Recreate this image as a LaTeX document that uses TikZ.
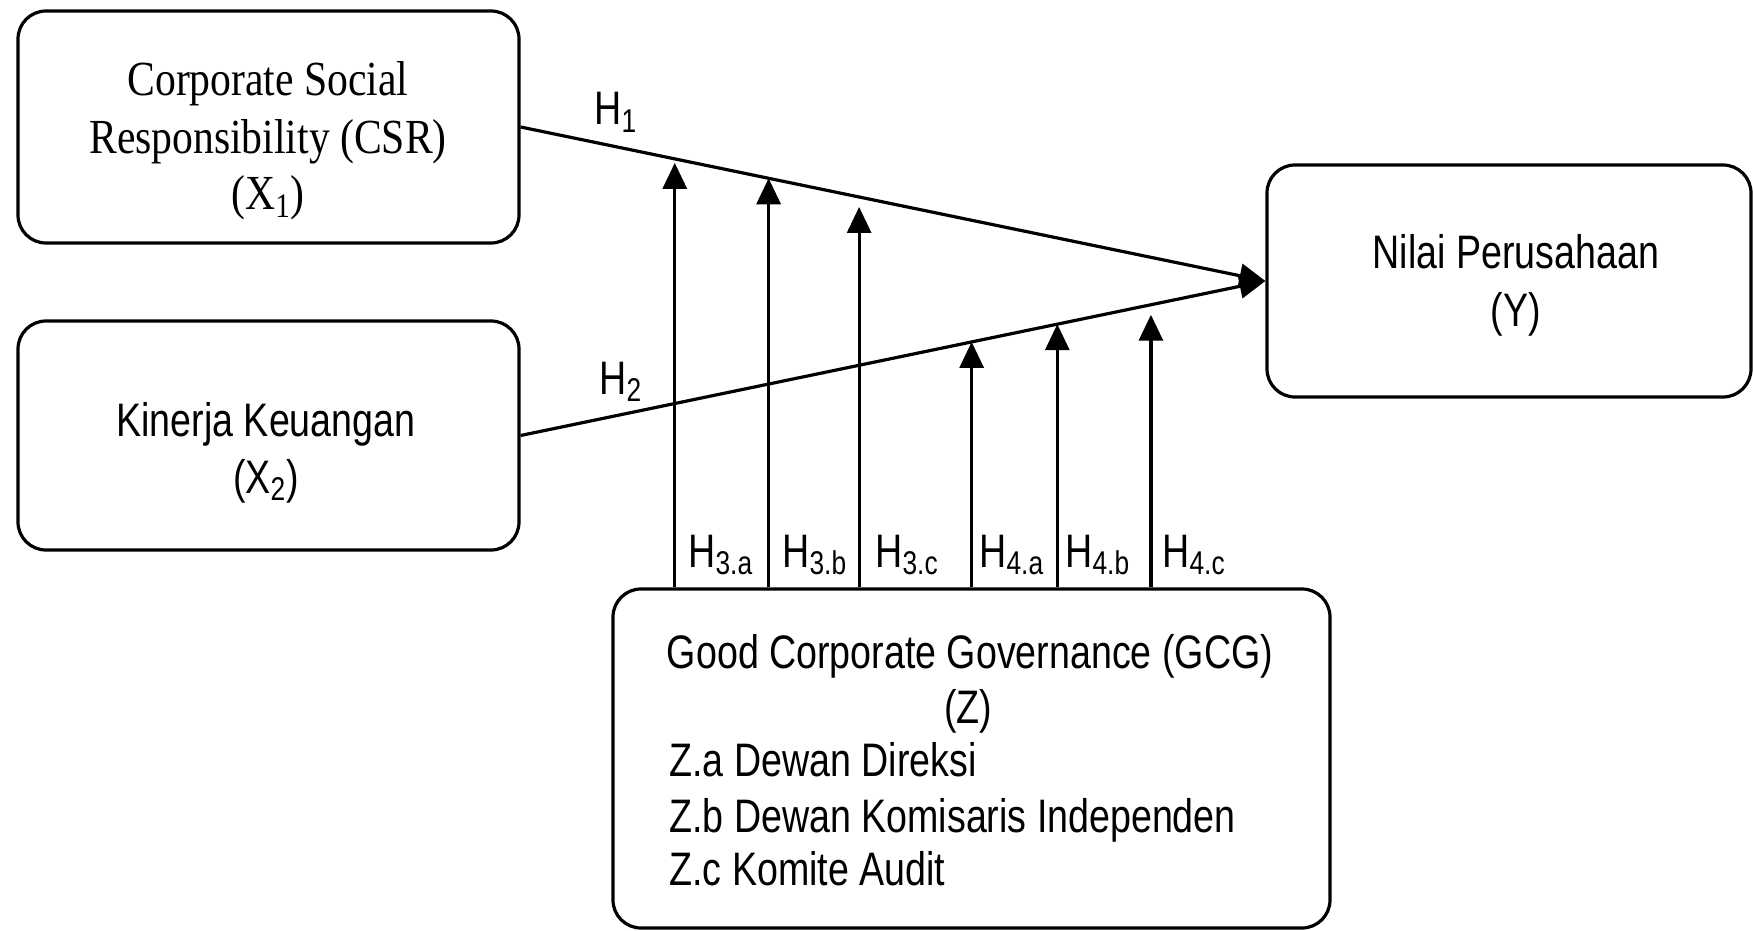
\documentclass[tikz,border=0pt]{standalone}
\usepackage{fontspec}
\setmainfont{Liberation Sans}[FakeStretch=0.8]
\newfontfamily\serifx{Liberation Serif}[FakeStretch=0.85]
\usetikzlibrary{arrows.meta}
\begin{document}
\begin{tikzpicture}[x=0.5pt,y=-0.5pt,
  box/.style={draw, line width=1.6pt, rounded corners=14pt, inner sep=0pt},
  conn/.style={line width=1.6pt, -{Triangle[length=13pt,width=12pt]}},
  sans/.style={font=\fontsize{23.5}{28}\selectfont, inner sep=0pt},
  seriftxt/.style={font=\serifx\fontsize{24.5}{29}\selectfont, inner sep=0pt}]
\useasboundingbox (0,0) rectangle (1753,931);
% boxes
\node[box, minimum width=250.5pt, minimum height=116pt] (csr) at (268.5,127) {};
\node[box, minimum width=250.5pt, minimum height=114.5pt] (kin) at (268.5,435.5) {};
\node[box, minimum width=242pt, minimum height=116pt] (nilai) at (1509,281) {};
\node[box, minimum width=358.5pt, minimum height=169.5pt] (gcg) at (971.5,758.5) {};
% box texts
\node[seriftxt, anchor=base] (t1) at (268,96) {Corporate Social};
\node[seriftxt, anchor=base] (t2) at (268,154) {Responsibility (CSR)};
\node[seriftxt, anchor=base] (t3) at (268,210) {(X\textsubscript{1})};
\node[sans, anchor=base] (k1) at (266,436) {Kinerja Keuangan};
\node[sans, anchor=base] (k2) at (266,493) {(X\textsubscript{2})};
\node[sans, anchor=base] (n1) at (1516,269) {Nilai Perusahaan};
\node[sans, anchor=base] (n2) at (1516,326) {(Y)};
\node[sans, anchor=base] (g1) at (970,668) {Good Corporate Governance (GCG)};
\node[sans, anchor=base] (g2) at (968,723) {(Z)};
\node[sans, anchor=base west] (g3) at (669,776) {Z.a Dewan Direksi};
\node[sans, anchor=base west] (g4) at (669,832) {Z.b Dewan Komisaris Independen};
\node[sans, anchor=base west] (g5) at (669,885) {Z.c Komite Audit};
% main connectors
\draw[conn] (csr.east) -- (nilai.west);
\draw[conn] (kin.east) -- (nilai.west);
\path (csr.east) -- (nilai.west)
  coordinate[pos=0.207] (a1) coordinate[pos=0.333] (a2) coordinate[pos=0.4545] (a3);
\path (kin.east) -- (nilai.west)
  coordinate[pos=0.6056] (b1) coordinate[pos=0.7206] (b2) coordinate[pos=0.8463] (b3);
\draw[conn, shorten >=2pt] (a1 |- gcg.north) -- (a1);
\draw[conn] (a2 |- gcg.north) -- (a2);
\draw[conn, shorten >=5pt] (a3 |- gcg.north) -- (a3);
\draw[conn] (b1 |- gcg.north) -- (b1);
\draw[conn] (b2 |- gcg.north) -- (b2);
\draw[conn, shorten >=5pt] (b3 |- gcg.north) -- (b3);
% labels
\node[sans, anchor=base west] (h1) at (594,125) {H\textsubscript{1}};
\node[sans, anchor=base west] (h2) at (599,394) {H\textsubscript{2}};
\node[sans, anchor=base west] (h3a) at (688,567) {H\textsubscript{3.a}};
\node[sans, anchor=base west] (h3b) at (782,567) {H\textsubscript{3.b}};
\node[sans, anchor=base west] (h3c) at (875,567) {H\textsubscript{3.c}};
\node[sans, anchor=base west] (h4a) at (979,567) {H\textsubscript{4.a}};
\node[sans, anchor=base west] (h4b) at (1065,567) {H\textsubscript{4.b}};
\node[sans, anchor=base west] (h4c) at (1162,567) {H\textsubscript{4.c}};
\end{tikzpicture}
\end{document}
